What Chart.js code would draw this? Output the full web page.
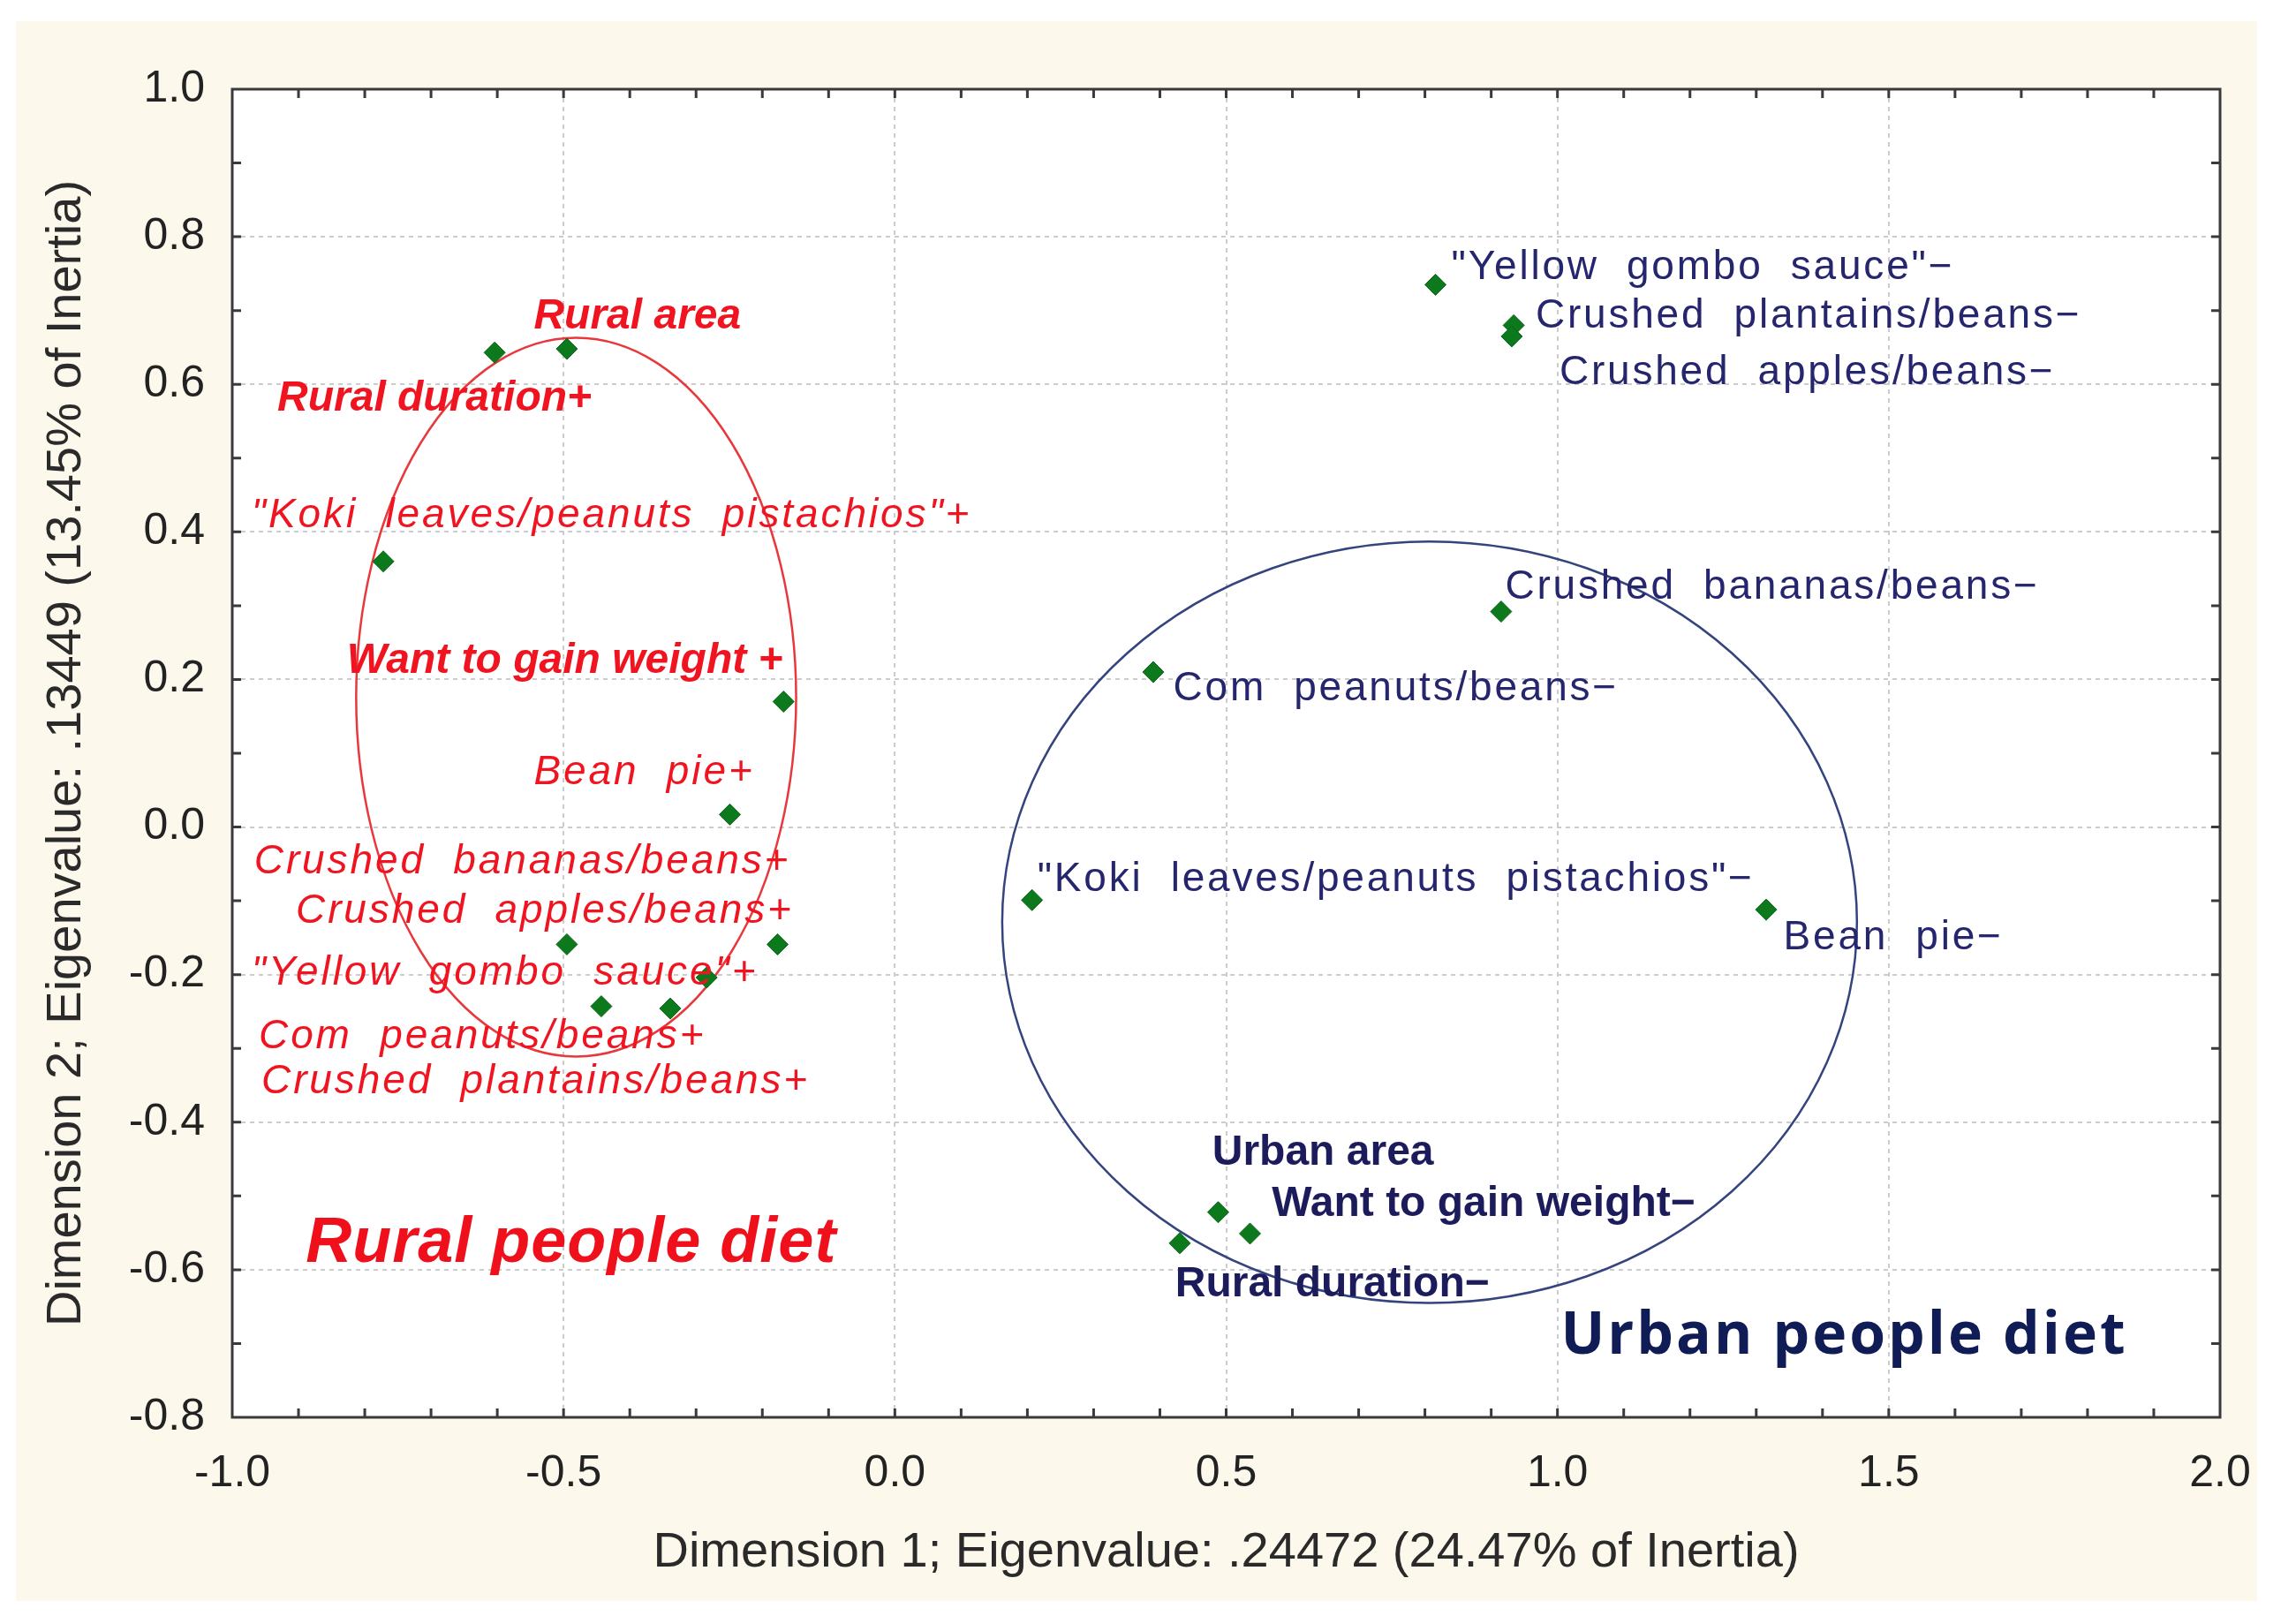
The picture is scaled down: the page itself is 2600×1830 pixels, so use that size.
<!DOCTYPE html>
<html><head><meta charset="utf-8">
<script src="https://cdn.jsdelivr.net/npm/chart.js@4.4.1/dist/chart.umd.min.js"></script>
<style>html,body{margin:0;padding:0;background:#fff;}canvas{display:block;}</style>
</head><body>
<canvas id="c" width="2600" height="1830"></canvas>
<script>
// ---------- data ----------
const ruralLabels = ["Rural area", "Rural duration+", "\"Koki  leaves/peanuts  pistachios\"+", "Want to gain weight +", "Bean  pie+", "Crushed  bananas/beans+", "Crushed  apples/beans+", "\"Yellow  gombo  sauce\"+", "Com  peanuts/beans+", "Crushed  plantains/beans+"];
const ruralX = [-0.495, -0.604, -0.772, -0.168, -0.249, -0.177, -0.495, -0.284, -0.339, -0.443];
const ruralY = [0.648, 0.643, 0.360, 0.170, 0.017, -0.159, -0.159, -0.204, -0.246, -0.243];

const urbanLabels = ["\"Yellow  gombo  sauce\"\u2212", "Crushed  plantains/beans\u2212", "Crushed  apples/beans\u2212", "Crushed  bananas/beans\u2212", "Com  peanuts/beans\u2212", "\"Koki  leaves/peanuts  pistachios\"\u2212", "Bean  pie\u2212", "Urban area", "Want to gain weight\u2212", "Rural duration\u2212"];
const urbanX = [0.816, 0.934, 0.931, 0.915, 0.390, 0.207, 1.315, 0.488, 0.536, 0.430];
const urbanY = [0.735, 0.680, 0.665, 0.292, 0.210, -0.099, -0.112, -0.522, -0.551, -0.564];

const groupTitles = ["Rural people diet", "Urban people diet"];
const ellipseCX = [-0.481, 0.807];
const ellipseCY = [0.176, -0.129];
const ellipseRX = [0.332, 0.645];
const ellipseRY = [0.487, 0.516];

const xTickValues = [-1.0, -0.5, 0.0, 0.5, 1.0, 1.5, 2.0];
const yTickValues = [-0.8, -0.6, -0.4, -0.2, 0.0, 0.2, 0.4, 0.6, 0.8, 1.0];
const xTitle = "Dimension 1; Eigenvalue: .24472 (24.47% of Inertia)";
const yTitle = "Dimension 2; Eigenvalue: .13449 (13.45% of Inertia)";

// ---------- layout (label anchors in data units: left edge, vertical middle) ----------
const ruralLabelPos = [[-0.545,0.691],[-0.932,0.580],[-0.971,0.422],[-0.827,0.225],[-0.545,0.074],[-0.967,-0.048],[-0.904,-0.114],[-0.971,-0.198],[-0.960,-0.284],[-0.956,-0.346]];
const ruralBold = [true,true,false,true,false,false,false,false,false,false];
const urbanLabelPos = [[0.840,0.758],[0.967,0.692],[1.003,0.616],[0.921,0.325],[0.420,0.187],[0.215,-0.072],[1.341,-0.151],[0.479,-0.442],[0.569,-0.511],[0.423,-0.620]];
const urbanBold = [false,false,false,false,false,false,false,true,true,true];
const titlePos = [[-0.889,-0.566],[1.005,-0.691]];

const RED = '#f01420', NAVY = '#26266e', NAVY_BOLD = '#1c1c5c';
const FONT = '"Liberation Sans", Arial, sans-serif';

const pts = (xs, ys) => xs.map((x, i) => ({x, y: ys[i]}));

const decor = {
  id: 'decor',
  beforeDraw(chart) {
    const {ctx, chartArea: a} = chart;
    ctx.save();
    ctx.fillStyle = '#ffffff';
    ctx.fillRect(0, 0, chart.width, chart.height);
    ctx.fillStyle = '#fdf8ec';
    ctx.fillRect(18, 24, 2538, 1789);
    ctx.fillStyle = '#ffffff';
    ctx.fillRect(a.left, a.top, a.right - a.left, a.bottom - a.top);
    ctx.restore();
  },
  beforeDatasetsDraw(chart) {
    const {ctx, scales: {x, y}} = chart;
    const cols = ['#e8383c', '#34447e'];
    ctx.save();
    for (let i = 0; i < ellipseCX.length; i++) {
      const cx = x.getPixelForValue(ellipseCX[i]);
      const cy = y.getPixelForValue(ellipseCY[i]);
      const rx = Math.abs(x.getPixelForValue(ellipseCX[i] + ellipseRX[i]) - cx);
      const ry = Math.abs(y.getPixelForValue(ellipseCY[i] + ellipseRY[i]) - cy);
      ctx.beginPath();
      ctx.ellipse(cx, cy, rx, ry, 0, 0, Math.PI * 2);
      ctx.strokeStyle = cols[i];
      ctx.lineWidth = 2.5;
      ctx.stroke();
    }
    ctx.restore();
  },
  afterDatasetsDraw(chart) {
    const {ctx, chartArea: a, scales: {x, y}} = chart;
    ctx.save();
    // frame
    ctx.strokeStyle = '#3a3a3a';
    ctx.lineWidth = 3;
    ctx.strokeRect(a.left, a.top, a.right - a.left, a.bottom - a.top);
    // minor tick marks inside, every 0.1
    ctx.lineWidth = 3;
    ctx.beginPath();
    for (let i = 1; i < 30; i++) {
      const px = x.getPixelForValue(-1 + i * 0.1);
      ctx.moveTo(px, a.top); ctx.lineTo(px, a.top + 10);
      ctx.moveTo(px, a.bottom); ctx.lineTo(px, a.bottom - 10);
    }
    for (let i = 1; i < 18; i++) {
      const py = y.getPixelForValue(-0.8 + i * 0.1);
      ctx.moveTo(a.left, py); ctx.lineTo(a.left + 10, py);
      ctx.moveTo(a.right, py); ctx.lineTo(a.right - 10, py);
    }
    ctx.stroke();

    ctx.textBaseline = 'middle';
    ctx.textAlign = 'left';
    const drawLabel = (t, p, font, color, ls) => {
      ctx.font = font;
      ctx.fillStyle = color;
      ctx.letterSpacing = ls + 'px';
      ctx.fillText(t, x.getPixelForValue(p[0]), y.getPixelForValue(p[1]));
    };
    ruralLabels.forEach((t, i) => {
      if (ruralBold[i]) drawLabel(t, ruralLabelPos[i], 'italic bold 48px ' + FONT, RED, 0);
      else drawLabel(t, ruralLabelPos[i], 'italic 46px ' + FONT, RED, 2.9);
    });
    urbanLabels.forEach((t, i) => {
      if (urbanBold[i]) drawLabel(t, urbanLabelPos[i], 'bold 48px ' + FONT, NAVY_BOLD, 0);
      else drawLabel(t, urbanLabelPos[i], '46px ' + FONT, NAVY, 2.8);
    });
    drawLabel(groupTitles[0], titlePos[0], 'italic bold 72px ' + FONT, '#f0101c', 1);
    drawLabel(groupTitles[1], titlePos[1], 'bold 66px "Open Sans", ' + FONT, '#101c56', 3);
    ctx.restore();
  }
};

const tickFmt = v => (Math.abs(v) < 1e-9 ? '0.0' : v.toFixed(1));

new Chart(document.getElementById('c'), {
  type: 'scatter',
  data: {
    datasets: [
      {label: 'Rural', data: pts(ruralX, ruralY)},
      {label: 'Urban', data: pts(urbanX, urbanY)}
    ]
  },
  options: {
    responsive: false, animation: false, devicePixelRatio: 1,
    layout: {padding: {top: 101, right: 86, left: 0, bottom: 0}},
    elements: {point: {pointStyle: 'rectRot', radius: 12, backgroundColor: '#0c7a1c', borderColor: '#0a6616', borderWidth: 1}},
    plugins: {legend: {display: false}, tooltip: {enabled: false}},
    scales: {
      x: {
        type: 'linear', min: -1, max: 2,
        afterBuildTicks: s => { s.ticks = xTickValues.map(v => ({value: v})); },
        afterFit: s => { s.height = 225; },
        ticks: {callback: tickFmt, font: {family: FONT, size: 50}, color: '#222', padding: 34, maxRotation: 0},
        grid: {color: '#cccccc', lineWidth: 2, drawTicks: false},
        border: {display: false, dash: [5, 5]},
        title: {display: true, text: xTitle, font: {family: FONT, size: 56}, color: '#2a2a2a', padding: {top: 0, bottom: 38}}
      },
      y: {
        type: 'linear', min: -0.8, max: 1.0,
        afterBuildTicks: s => { s.ticks = yTickValues.map(v => ({value: v})); },
        afterFit: s => { s.width = 263; },
        ticks: {callback: tickFmt, font: {family: FONT, size: 50}, color: '#222', padding: 31},
        grid: {color: '#cccccc', lineWidth: 2, drawTicks: false},
        border: {display: false, dash: [5, 5]},
        title: {display: true, text: yTitle, font: {family: FONT, size: 56}, color: '#2a2a2a', padding: {top: 42, bottom: 0}}
      }
    }
  },
  plugins: [decor]
});
</script>
</body></html>
